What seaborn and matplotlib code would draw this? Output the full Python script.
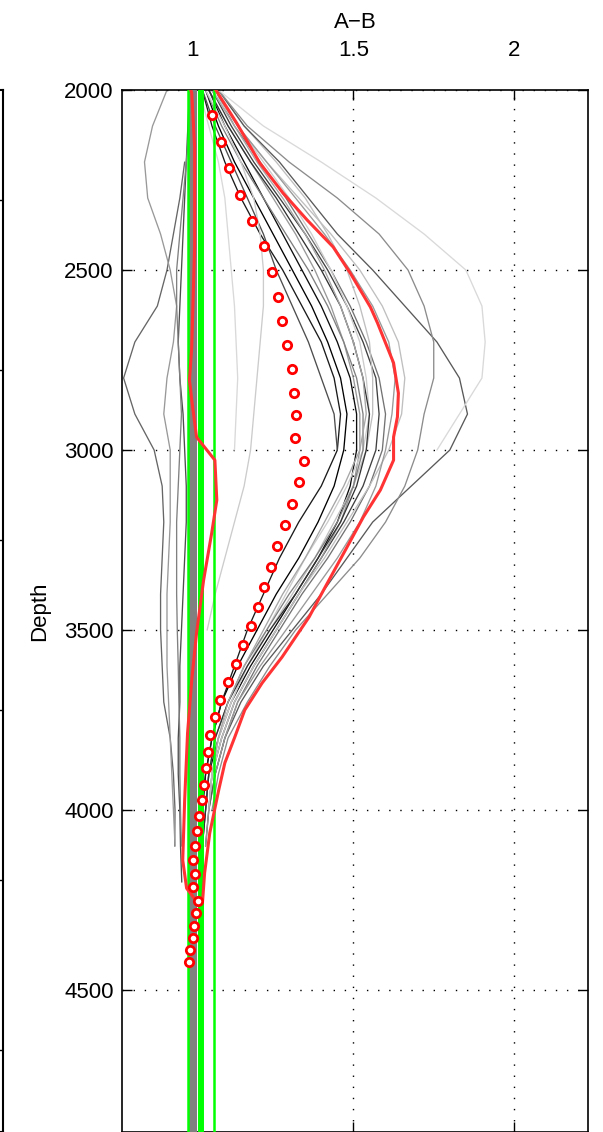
import numpy as np
import pandas as pd
import matplotlib
matplotlib.use("Agg")
import matplotlib.pyplot as plt
import seaborn as sns

sns.set_style("white")
plt.rcParams["font.family"] = ["Liberation Sans", "DejaVu Sans"]
plt.rcParams["text.color"] = "black"
plt.rcParams["axes.labelcolor"] = "black"

# depth levels of the individual profiles
depth = [2000, 2100, 2200, 2300, 2400, 2500, 2600, 2700, 2800, 2900, 3000, 3100,
         3200, 3300, 3400, 3500, 3600, 3700, 3800, 3900, 4000, 4100, 4200]

N = None
# individual A-B profiles
profiles = [
    [1.05, 1.10, 1.16, 1.22, 1.28, 1.34, 1.40, 1.45, 1.49, 1.51, 1.51, 1.49, 1.45, 1.39, 1.32, 1.25, 1.18, 1.12, 1.08, 1.05, 1.04, 1.03, N],
    [1.06, 1.12, 1.19, 1.27, 1.35, 1.42, 1.48, 1.53, 1.57, 1.58, 1.57, 1.53, 1.47, 1.40, 1.33, 1.26, 1.19, 1.13, 1.09, 1.06, 1.05, 1.04, N],
    [1.04, 1.08, 1.13, 1.19, 1.25, 1.31, 1.37, 1.42, 1.46, 1.48, 1.47, 1.44, 1.39, 1.33, 1.26, 1.20, 1.14, 1.09, 1.06, 1.04, 1.03, N, N],
    [1.07, 1.13, 1.21, 1.29, 1.36, 1.43, 1.49, 1.54, 1.58, 1.60, 1.59, 1.55, 1.49, 1.42, 1.34, 1.27, 1.20, 1.14, 1.10, 1.07, 1.05, N, N],
    [1.05, 1.11, 1.18, 1.25, 1.32, 1.38, 1.43, 1.47, 1.50, 1.52, 1.52, 1.50, 1.46, 1.40, 1.33, 1.26, 1.19, 1.13, 1.09, 1.06, 1.05, 1.04, N],
    [1.03, 1.06, 1.10, 1.15, 1.21, 1.28, 1.34, 1.40, 1.44, 1.46, 1.45, 1.40, 1.33, 1.27, 1.22, 1.17, 1.13, 1.09, 1.06, 1.04, 1.03, 1.02, N],
    [1.03, 1.07, 1.12, 1.17, 1.22, 1.26, 1.31, 1.36, 1.40, 1.44, 1.45, N, N, N, N, N, N, N, N, N, N, N, N],
    [1.08, 1.16, 1.26, 1.35, 1.42, 1.48, 1.52, 1.55, 1.56, 1.56, 1.54, 1.50, 1.44, 1.38, 1.31, 1.24, 1.17, 1.12, 1.08, 1.06, 1.05, N, N],
    [1.06, 1.14, 1.22, 1.30, 1.37, 1.43, 1.48, 1.52, 1.54, 1.55, 1.53, 1.48, 1.42, 1.35, 1.29, 1.23, 1.17, 1.12, 1.08, 1.06, N, N, N],
    [1.04, 1.09, 1.15, 1.22, 1.29, 1.36, 1.42, 1.47, 1.51, 1.53, 1.53, 1.50, 1.45, 1.38, 1.30, 1.23, 1.16, 1.11, 1.07, 1.05, 1.04, N, N],
    [1.05, 1.11, 1.18, 1.26, 1.33, 1.40, 1.46, 1.50, 1.53, 1.55, 1.54, 1.51, 1.46, 1.39, 1.32, 1.24, 1.17, 1.11, 1.07, 1.05, 1.04, 1.03, N],
    [1.06, 1.13, 1.20, 1.28, 1.35, 1.41, 1.46, 1.50, 1.53, 1.54, 1.52, 1.47, 1.41, 1.35, 1.28, 1.22, 1.16, 1.11, 1.08, 1.06, 1.05, N, N],
    [1.08, 1.16, 1.27, 1.36, 1.45, 1.56, 1.66, 1.76, 1.83, 1.855, 1.80, 1.68, 1.56, 1.48, 1.40, 1.31, 1.22, 1.15, 1.10, 1.07, 1.05, N, N],
    [1.08, 1.17, 1.30, 1.45, 1.58, 1.67, 1.72, 1.75, 1.75, 1.72, 1.70, 1.66, 1.60, 1.52, 1.42, 1.32, 1.24, 1.17, 1.11, 1.08, 1.06, N, N],
    [1.08, 1.22, 1.40, 1.57, 1.72, 1.85, 1.90, 1.91, 1.90, 1.83, 1.76, N, N, N, N, N, N, N, N, N, N, N, N],
    [1.07, 1.14, 1.23, 1.33, 1.43, 1.52, 1.59, 1.64, 1.66, 1.65, 1.61, 1.55, 1.48, 1.41, 1.33, 1.26, 1.19, 1.13, 1.09, 1.06, 1.05, N, N],
    [1.07, 1.14, 1.23, 1.32, 1.41, 1.49, 1.56, 1.61, 1.63, 1.62, 1.60, 1.57, 1.52, 1.45, 1.37, 1.29, 1.21, 1.14, 1.10, 1.07, N, N, N],
    [1.04, 1.10, 1.15, 1.19, 1.21, 1.22, 1.22, 1.21, 1.20, 1.19, 1.18, 1.16, 1.13, 1.10, 1.07, 1.045, N, N, N, N, N, N, N],
    [1.02, 1.05, 1.08, 1.10, 1.11, 1.12, 1.13, 1.135, 1.14, 1.135, 1.13, N, N, N, N, N, N, N, N, N, N, N, N],
    [N, N, 0.975, 0.96, 0.94, 0.92, 0.89, 0.82, 0.785, 0.82, 0.88, 0.905, 0.91, 0.905, 0.90, 0.90, 0.905, 0.91, 0.93, 0.94, 0.945, 0.944, N],
    [0.92, 0.875, 0.85, 0.86, 0.90, 0.93, 0.95, 0.94, 0.92, 0.91, 0.93, 0.93, 0.93, 0.925, 0.92, 0.92, 0.92, 0.925, 0.93, 0.935, 0.94, 0.945, N],
    [0.99, 0.985, 0.98, 0.975, 0.97, 0.965, 0.96, 0.955, 0.96, 0.97, 0.975, 0.98, 0.98, 0.975, 0.97, 0.965, 0.96, 0.96, 0.955, 0.955, 0.96, 0.962, 0.966],
    [1.00, 0.99, 0.98, 0.97, 0.96, 0.95, 0.95, 0.955, 0.96, 0.965, 0.96, 0.955, 0.95, 0.95, 0.95, 0.952, 0.955, 0.957, 0.96, 0.96, 0.962, 0.965, N],
]
profile_grays = [0.05, 0.25, 0.0, 0.45, 0.6, 0.1, 0.3, 0.75, 0.8, 0.5, 0.2, 0.65,
                 0.35, 0.55, 0.85, 0.75, 0.6, 0.8, 0.85, 0.4, 0.6, 0.3, 0.5]

# envelope (max down, min back up)
env_depth = [2000, 2092, 2203, 2286, 2361, 2436, 2508, 2603, 2647, 2758, 2842, 2908, 2964,
             3028, 3111, 3186, 3278, 3381, 3464, 3575, 3647, 3722, 3797, 3869, 3944, 4064,
             4175, 4250, 4258, 4217, 4139, 3972, 3786, 3639, 3508, 3361, 3231, 3139, 3028,
             2964, 2861, 2806, 2714, 2436, 2158, 2008, 2000]
env_ratio = [1.072, 1.137, 1.209, 1.281, 1.356, 1.437, 1.49, 1.553, 1.575, 1.625, 1.64, 1.637, 1.625,
             1.625, 1.584, 1.531, 1.475, 1.412, 1.362, 1.278, 1.216, 1.162, 1.131, 1.10, 1.081, 1.053,
             1.037, 1.031, 1.016, 0.981, 0.969, 0.975, 0.984, 0.997, 1.012, 1.034, 1.059, 1.075, 1.069,
             1.012, 0.997, 0.99, 0.997, 1.006, 1.006, 0.997, 0.994]

# mean profile (circles)
mean_depth = [2069, 2144, 2217, 2292, 2364, 2433, 2506, 2575, 2642, 2708, 2775, 2842, 2903, 2967,
              3031, 3089, 3150, 3208, 3267, 3325, 3381, 3436, 3489, 3542, 3594, 3644, 3694, 3742,
              3792, 3839, 3883, 3931, 3972, 4017, 4058, 4100, 4139, 4178, 4214, 4253, 4286, 4322,
              4356, 4389, 4422]
mean_ratio = [1.059, 1.087, 1.112, 1.147, 1.184, 1.222, 1.247, 1.266, 1.278, 1.294, 1.309, 1.316, 1.322, 1.319,
              1.347, 1.331, 1.309, 1.287, 1.262, 1.244, 1.222, 1.203, 1.181, 1.156, 1.134, 1.109, 1.084, 1.069,
              1.053, 1.047, 1.041, 1.034, 1.028, 1.019, 1.012, 1.006, 1.0, 1.006, 1.0, 1.016, 1.009, 1.003,
              1.0, 0.991, 0.987]

band_x = 1.0
green_x = [0.984, 1.025, 1.066]
green_lw = [1.8, 4.3, 1.8]

fig = plt.figure(figsize=(6.03, 11.32), dpi=100)
ax = fig.add_axes([122 / 603, 0, 466 / 603, 1042 / 1132])

for vals, g in zip(profiles, profile_grays):
    df = pd.DataFrame({"depth": depth, "ratio": vals}).dropna()
    sns.lineplot(data=df, x="ratio", y="depth", sort=False, estimator=None,
                 color=str(g), lw=0.95, ax=ax)

ax.axvline(band_x, color="#808080", lw=5.8, zorder=3)
for gx, lw in zip(green_x, green_lw):
    ax.axvline(gx, color="#00ff00", lw=lw, zorder=3)

sns.lineplot(x=env_ratio, y=env_depth, sort=False, estimator=None,
             color="#ff3333", lw=2.2, ax=ax, zorder=4)
sns.scatterplot(x=mean_ratio, y=mean_depth, marker="o", s=36, facecolor="white",
                edgecolor="red", linewidth=2.0, ax=ax, zorder=5)

ax.set_xlim(0.78, 2.23)
ax.set_ylim(4894, 2000)
ax.set_xticks([1, 1.5, 2])
ax.set_xticklabels(["1", "1.5", "2"])
ax.set_yticks([2000, 2500, 3000, 3500, 4000, 4500])
ax.xaxis.tick_top()
ax.tick_params(direction="in", top=True, bottom=True, left=True, right=True,
               length=7, width=1, labelsize=16, colors="black")
ax.tick_params(axis="x", pad=21)
ax.tick_params(axis="y", pad=6)
ax.set_axisbelow(True)
ax.grid(True, color="black", linestyle=(0, (1, 7)), lw=1)
ax.set_xlabel("")
ax.set_ylabel("Depth", fontsize=16, labelpad=10, color="black")
for s in ax.spines.values():
    s.set_color("black")
    s.set_linewidth(1.2)

fig.text(355 / 603, 1 - 23 / 1132, "A\u2212B", ha="center", va="center", fontsize=16,
         color="black")

# neighbouring panel, only its right edge is visible
ax2 = fig.add_axes([-0.3, 0, 0.3 + 3 / 603, 1042 / 1132])
ax2.set_ylim(1132, 90)
ax2.set_xticks([])
ax2.set_yticks([200, 370, 540, 710, 880, 1050])
ax2.tick_params(direction="in", left=False, right=True, labelleft=False,
                length=7, width=1, colors="black")
for s in ax2.spines.values():
    s.set_color("black")
    s.set_linewidth(1.5)

fig.savefig("out.png", dpi=100)
